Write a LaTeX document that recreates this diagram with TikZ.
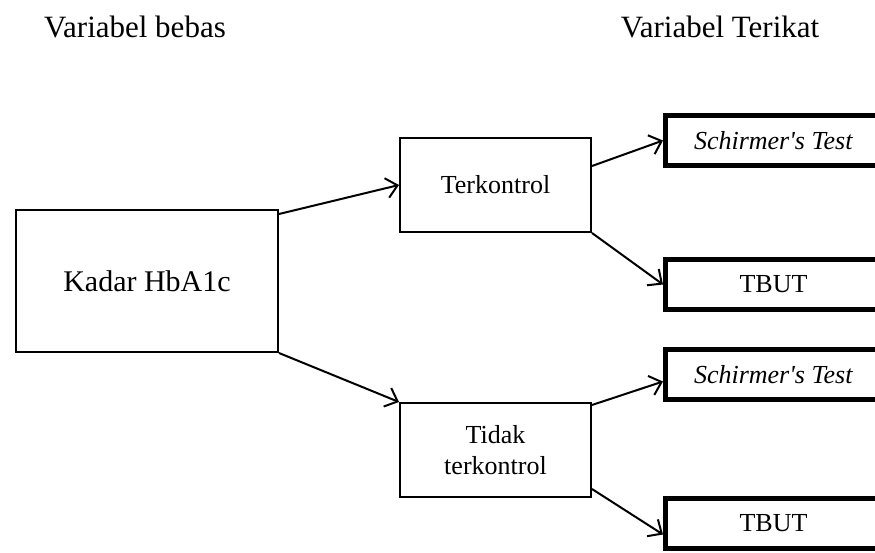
\documentclass[tikz,border=0pt]{standalone}
\usepackage{fontspec}
\setmainfont{Liberation Serif}
\usepackage{tikz}
\usetikzlibrary{positioning,arrows.meta}
\tikzset{block/.style={draw,line width=2pt,minimum width=191pt,minimum height=94pt,align=center,font=\fontsize{26}{31}\selectfont},
         outblock/.style={draw,line width=5pt,minimum width=216pt,minimum height=50pt,font=\fontsize{26}{31}\selectfont},
         title/.style={anchor=base,font=\fontsize{31}{36}\selectfont}
}
\tikzstyle{arrow} = [line width=2pt,-{Straight Barb[length=11pt,width=20pt,line width=2pt]}]

\begin{document}
\begin{tikzpicture}[x=1pt,y=1pt]
\clip (0,0) rectangle (875,-552);

\node[title] (bebas) at (135,-37) {Variabel bebas};
\node[title] (terikat) at (720,-37) {Variabel Terikat};

\node[block,minimum width=262pt,minimum height=142pt,font=\fontsize{30}{36}\selectfont] (kadar) at (147,-281) {Kadar HbA1c};
\node[block] (terk) at (495.5,-185) {Terkontrol};
\node[block,below=169pt of terk] (tidak) {Tidak\\terkontrol};

\node[outblock] (sch1) at (773.5,-140.5) {\textit{Schirmer\textquotesingle s Test}};
\node[outblock,below=89pt of sch1] (tbut1) {TBUT};
\node[outblock,below=35pt of tbut1] (sch2) {\textit{Schirmer\textquotesingle s Test}};
\node[outblock,below=94pt of sch2] (tbut2) {TBUT};

\draw[arrow] ([yshift=-5pt]kadar.north east)--(terk.west);
\draw[arrow] (kadar.south east)--(tidak.north west);
\draw[arrow] ([yshift=19pt]terk.east)--(sch1.west);
\draw[arrow] (terk.south east)--(tbut1.west);
\draw[arrow] ([yshift=-3pt]tidak.north east)--([yshift=-7pt]sch2.west);
\draw[arrow] ([yshift=9pt]tidak.south east)--([yshift=-11pt]tbut2.west);

\end{tikzpicture}
\end{document}
